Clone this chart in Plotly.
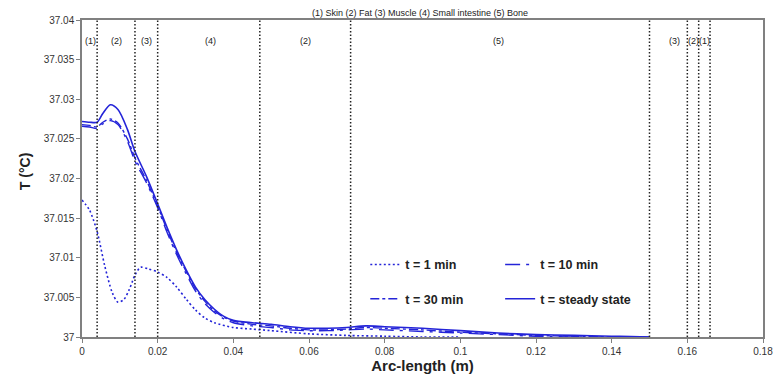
import plotly.graph_objects as go

# ---- data ----
x_main = [0, 0.002, 0.004, 0.0055, 0.0075, 0.0095, 0.012, 0.014, 0.017, 0.02, 0.0225,
          0.025, 0.0275, 0.03, 0.0325, 0.035, 0.0375, 0.04, 0.045, 0.05, 0.055, 0.06,
          0.065, 0.07, 0.075, 0.08, 0.09, 0.1, 0.11, 0.12, 0.13, 0.14, 0.145, 0.15]
t_steady = [37.0272, 37.0271, 37.0271, 37.0282, 37.0293, 37.0287, 37.0262, 37.0234, 37.0203,
            37.0168, 37.0138, 37.0110, 37.0085, 37.0063, 37.0047, 37.0035, 37.0026, 37.0021,
            37.0018, 37.0016, 37.0013, 37.0011, 37.0011, 37.0012, 37.0014, 37.0013, 37.0011,
            37.0008, 37.0005, 37.0003, 37.0002, 37.0001, 37.00005, 37.0]
t_30 = [37.0268, 37.0267, 37.0265, 37.0271, 37.0275, 37.0270, 37.0250, 37.0226, 37.0198,
        37.0165, 37.0135, 37.0107, 37.0083, 37.0061, 37.0045, 37.0033, 37.0025, 37.0020,
        37.0016, 37.0014, 37.0011, 37.0009, 37.0009, 37.0010, 37.0012, 37.0011, 37.0009,
        37.0006, 37.0004, 37.0002, 37.0001, 37.0, 37.0, 37.0]
t_10 = [37.0266, 37.0265, 37.0263, 37.0269, 37.0273, 37.0268, 37.0247, 37.0222, 37.0195,
        37.0163, 37.0132, 37.0104, 37.0080, 37.0058, 37.0042, 37.0031, 37.0023, 37.0018,
        37.0014, 37.0012, 37.0009, 37.0008, 37.0008, 37.0009, 37.0010, 37.0009, 37.0007,
        37.0005, 37.0003, 37.0001, 37.0, 37.0, 37.0, 37.0]
x_1 = [0, 0.002, 0.004, 0.006, 0.008, 0.0095, 0.011, 0.0125, 0.014, 0.0155, 0.0175, 0.02,
       0.0225, 0.025, 0.0275, 0.03, 0.0325, 0.035, 0.04, 0.045, 0.05, 0.06, 0.07, 0.08, 0.09, 0.1]
t_1 = [37.0173, 37.0160, 37.0133, 37.0090, 37.0056, 37.0044, 37.0047, 37.0060, 37.0078,
       37.0088, 37.0086, 37.0082, 37.0075, 37.0063, 37.0048, 37.0034, 37.0024, 37.0018,
       37.0012, 37.0010, 37.0008, 37.0004, 37.0002, 37.0001, 37.0, 37.0]

boundaries = [0.004, 0.014, 0.02, 0.047, 0.071, 0.15, 0.16, 0.163, 0.166]
region_x = [0.0022, 0.009, 0.017, 0.034, 0.059, 0.11, 0.1565, 0.1615, 0.1645]
region_labels = ["(1)", "(2)", "(3)", "(4)", "(2)", "(5)", "(3)", "(2)", "(1)"]

y_ticks = [37, 37.005, 37.01, 37.015, 37.02, 37.025, 37.03, 37.035, 37.04]
y_ticktext = ["37", "37.005", "37.01", "37.015", "37.02", "37.025", "37.03", "37.035", "37.04"]
x_ticks = [0, 0.02, 0.04, 0.06, 0.08, 0.1, 0.12, 0.14, 0.16, 0.18]
x_ticktext = ["0", "0.02", "0.04", "0.06", "0.08", "0.1", "0.12", "0.14", "0.16", "0.18"]

FONT = "Liberation Sans, Arial, sans-serif"
BLUE = "#2424d8"

fig = go.Figure()
fig.add_trace(go.Scatter(x=x_1, y=t_1, mode="lines", name="t = 1 min", legend="legend",
                         legendgroup="a", line=dict(color=BLUE, width=1.6, dash="2px,2.5px", shape="spline", smoothing=0.8)))
fig.add_trace(go.Scatter(x=x_main, y=t_30, mode="lines", name="t = 30 min", legend="legend",
                         legendgroup="b", line=dict(color=BLUE, width=1.4, dash="dashdot", shape="spline", smoothing=0.8)))
fig.add_trace(go.Scatter(x=x_main, y=t_10, mode="lines", name="t = 10 min", legend="legend2",
                         legendgroup="c", line=dict(color=BLUE, width=1.4, dash="longdashdot", shape="spline", smoothing=0.8)))
fig.add_trace(go.Scatter(x=x_main, y=t_steady, mode="lines", name="t = steady state", legend="legend2",
                         legendgroup="d", line=dict(color=BLUE, width=1.6, dash="solid", shape="spline", smoothing=0.8)))

for b in boundaries:
    fig.add_shape(type="line", xref="x", yref="paper", x0=b, x1=b, y0=0, y1=1,
                  line=dict(color="#222222", width=1.5, dash="1.5px,2px"), layer="above")

for xv, lab in zip(region_x, region_labels):
    fig.add_annotation(x=xv, y=0.956, xref="x", yref="paper", text=lab, showarrow=False,
                       font=dict(family=FONT, size=9, color="#222222"))

fig.add_annotation(x=-0.0837, y=0.52, xref="paper", yref="paper", text="<b>T (°C)</b>",
                   textangle=-90, showarrow=False, xanchor="center", yanchor="middle",
                   font=dict(family=FONT, size=14, color="#222222"))

fig.update_layout(
    width=773, height=376,
    margin=dict(l=82, r=10, t=20, b=39),
    paper_bgcolor="white", plot_bgcolor="white",
    font=dict(family=FONT, size=10, color="#333333"),
    title=dict(text="(1) Skin (2) Fat (3) Muscle (4) Small intestine (5) Bone",
               x=0.5433, xanchor="center", y=0.9654, yanchor="middle",
               font=dict(family=FONT, size=9, color="#222222")),
    xaxis=dict(range=[0, 0.1800001], tickvals=x_ticks, ticktext=x_ticktext, showgrid=False,
               zeroline=False, showline=True, linecolor="#808080", linewidth=1.5, mirror=True,
               ticks="outside", ticklen=4, tickcolor="#808080", automargin=False,
               ticklabeloverflow="allow",
               title=dict(text="<b>Arc-length (m)</b>", font=dict(family=FONT, size=15, color="#222222"),
                          standoff=5)),
    yaxis=dict(range=[37, 37.04], tickvals=y_ticks, ticktext=y_ticktext, showgrid=False,
               zeroline=False, showline=True, linecolor="#808080", linewidth=1.5, mirror=True,
               ticks="outside", ticklen=4, tickcolor="#808080", automargin=False),
    legend=dict(x=0.416, y=0.275, xanchor="left", yanchor="top", bgcolor="rgba(0,0,0,0)",
                tracegroupgap=15, font=dict(family=FONT, size=12.5, color="#222222", weight="bold")),
    legend2=dict(x=0.614, y=0.275, xanchor="left", yanchor="top", bgcolor="rgba(0,0,0,0)",
                 tracegroupgap=15, font=dict(family=FONT, size=12.5, color="#222222", weight="bold")),
    showlegend=True,
)

fig.write_html("out.html", config={"displayModeBar": False},
               post_script="document.body.style.margin='0';document.body.style.overflow='hidden';")
